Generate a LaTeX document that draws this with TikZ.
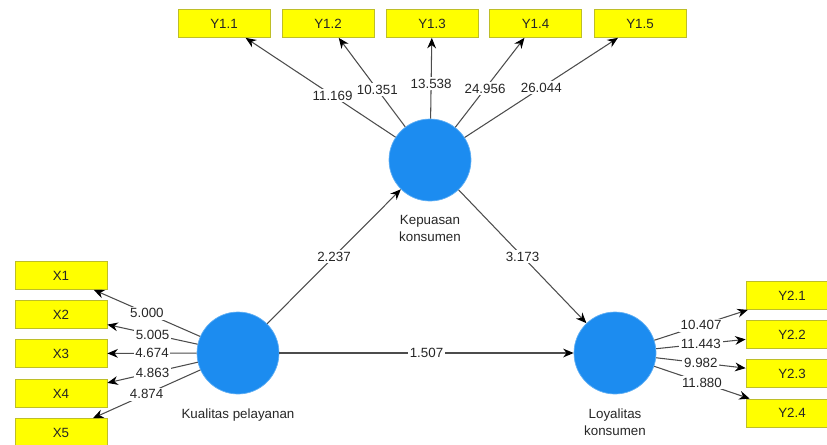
\documentclass[tikz,border=0pt]{standalone}
\usepackage{fontspec}
\setmainfont{Liberation Sans}
\usetikzlibrary{arrows.meta, positioning}
\definecolor{lvblue}{RGB}{28,140,240}
\definecolor{indyellow}{RGB}{255,255,0}
\definecolor{indborder}{RGB}{190,190,40}
\tikzset{>={Stealth[length=6pt,width=5pt,color=black]}}

\begin{document}
\begin{tikzpicture}[x=0.02cm, y=-0.02cm,
	latent/.style={circle, fill=lvblue, draw=lvblue!70, minimum size=1.64cm, inner sep=0pt},
	ind/.style={rectangle, fill=indyellow, draw=indborder, minimum width=1.84cm, minimum height=0.56cm, inner sep=0pt, font=\fontsize{7.6}{9}\selectfont, text=black!85},
	lbl/.style={fill=white, inner sep=1pt, font=\fontsize{7.6}{9}\selectfont, text=black!85},
	lvcap/.style={align=center, inner sep=0pt, font=\fontsize{7.6}{9.6}\selectfont, text=black!85},
	link/.style={->, draw=black!70, line width=0.6pt}]
	\useasboundingbox (0,0) rectangle (827,444);

% latent variables
	\node[latent] (kp) at (430,160) {};
	\node[latent] (kl) at (238,353) {};
	\node[latent] (ly) at (615,353) {};
	\node[lvcap, below=8pt of kp] (kpcap) {Kepuasan\\konsumen};
	\node[lvcap, below=8pt of kl] (klcap) {Kualitas pelayanan};
	\node[lvcap, below=8pt of ly] (lycap) {Loyalitas\\konsumen};

% indicators
	\node[ind] (y11) at (224,23.5) {Y1.1};
	\node[ind] (y12) at (328,23.5) {Y1.2};
	\node[ind] (y13) at (432,23.5) {Y1.3};
	\node[ind] (y14) at (535.5,23.5) {Y1.4};
	\node[ind] (y15) at (640,23.5) {Y1.5};

	\node[ind] (x1) at (61,275.5) {X1};
	\node[ind] (x2) at (61,314.5) {X2};
	\node[ind] (x3) at (61,353.5) {X3};
	\node[ind] (x4) at (61,393.5) {X4};
	\node[ind] (x5) at (61,432.5) {X5};

	\node[ind] (y21) at (792,295.5) {Y2.1};
	\node[ind] (y22) at (792,334.5) {Y2.2};
	\node[ind] (y23) at (792,373.5) {Y2.3};
	\node[ind] (y24) at (792,413) {Y2.4};

% outer loadings
	\draw[link] (kp) -- node[lbl, pos=0.42]{11.169} (y11);
	\draw[link] (kp) -- node[lbl, pos=0.42]{10.351} (y12);
	\draw[link] (kp) -- node[lbl, pos=0.43]{13.538} (y13);
	\draw[link] (kp) -- node[lbl, pos=0.43]{24.956} (y14);
	\draw[link] (kp) -- node[lbl, pos=0.5]{26.044} (y15);

	\draw[link] (kl) -- node[lbl]{5.000} (x1);
	\draw[link] (kl) -- node[lbl]{5.005} (x2);
	\draw[link] (kl) -- node[lbl]{4.674} (x3);
	\draw[link] (kl) -- node[lbl]{4.863} (x4);
	\draw[link] (kl) -- node[lbl]{4.874} (x5);

	\draw[link] (ly) -- node[lbl]{10.407} (y21);
	\draw[link] (ly) -- node[lbl]{11.443} (y22);
	\draw[link] (ly) -- node[lbl]{9.982} (y23);
	\draw[link] (ly) -- node[lbl]{11.880} (y24);

% inner model
	\draw[link] (kl) -- node[lbl]{2.237} (kp);
	\draw[link] (kp) -- node[lbl]{3.173} (ly);
	\draw[link] (kl) -- node[lbl]{1.507} (ly);

\end{tikzpicture}
\end{document}
